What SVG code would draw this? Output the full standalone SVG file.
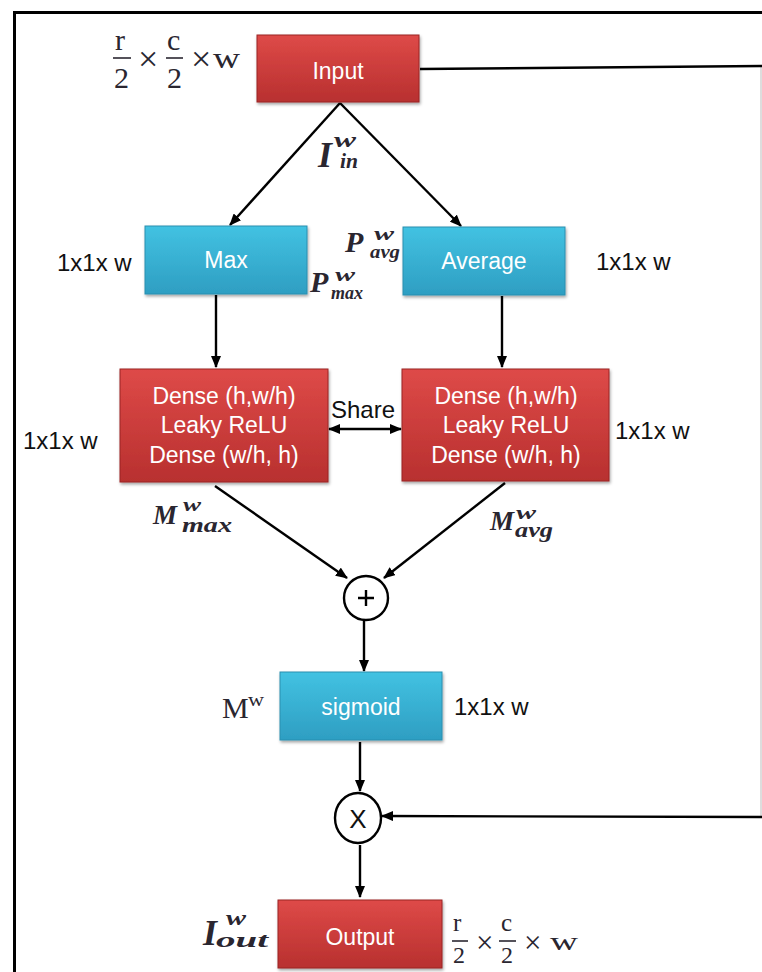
<svg xmlns="http://www.w3.org/2000/svg" width="762" height="972" viewBox="0 0 762 972">
  <defs>
    <linearGradient id="redFill" x1="0" y1="0" x2="0" y2="1">
      <stop offset="0" stop-color="#de4a48"/>
      <stop offset="1" stop-color="#b8302f"/>
    </linearGradient>
    <linearGradient id="blueFill" x1="0" y1="0" x2="0" y2="1">
      <stop offset="0" stop-color="#42c2e2"/>
      <stop offset="1" stop-color="#2e9ec2"/>
    </linearGradient>
    <filter id="shadow" x="-10%" y="-10%" width="125%" height="130%">
      <feDropShadow dx="1" dy="2" stdDeviation="1.5" flood-color="#000" flood-opacity="0.35"/>
    </filter>
    <marker id="arrow" markerUnits="userSpaceOnUse" markerWidth="12" markerHeight="10" refX="11" refY="5" orient="auto-start-reverse">
      <path d="M0,0 L12,5 L0,10 Z" fill="#000"/>
    </marker>
  </defs>
  <style>
    .red { fill: url(#redFill); stroke: #9a2424; stroke-width: 1; filter: url(#shadow); }
    .blue { fill: url(#blueFill); stroke: #2a8fb0; stroke-width: 1; filter: url(#shadow); }
    .lbl { font-family: "Liberation Sans", Arial, sans-serif; font-size: 23px; fill: #fff; text-anchor: middle; }
    .dim { font-family: "Liberation Sans", Arial, sans-serif; font-size: 24px; fill: #111; }
    .math { font-family: "Liberation Serif", "Times New Roman", serif; fill: #2a2630; }
    .mi { font-family: "Liberation Serif", "Times New Roman", serif; font-style: italic; font-weight: bold; fill: #2a2630; }
    .bar { stroke: #2a2630; stroke-width: 1.6; }
    .wire { stroke: #000; stroke-width: 2.4; fill: none; }
    .arr { stroke: #000; stroke-width: 2.4; fill: none; marker-end: url(#arrow); }
  </style>

  <rect width="762" height="972" fill="#fff"/>
  <!-- outer frame -->
  <path d="M14.5,980 V12.5 H770" fill="none" stroke="#000" stroke-width="3"/>
  <line x1="761" y1="66" x2="761" y2="818" stroke="#bbb" stroke-width="1"/>

  <!-- connectors -->
  <g id="connectors">
    <line class="arr" x1="340" y1="103" x2="230" y2="225"/>
    <line class="arr" x1="340" y1="103" x2="461" y2="226"/>
    <line class="arr" x1="216" y1="295" x2="216" y2="367"/>
    <line class="arr" x1="502" y1="296" x2="502" y2="367"/>
    <line class="arr" x1="364" y1="429" x2="329" y2="429"/>
    <line class="arr" x1="364" y1="429" x2="401" y2="429"/>
    <line class="arr" x1="215" y1="486" x2="347" y2="578"/>
    <line class="arr" x1="505" y1="483" x2="384" y2="578"/>
    <line class="arr" x1="364" y1="620" x2="364" y2="671"/>
    <line class="arr" x1="360" y1="742" x2="360" y2="791"/>
    <line class="arr" x1="360" y1="845" x2="360" y2="897"/>
    <path class="wire" d="M420,69 L762,66"/>
    <line class="arr" x1="762" y1="817" x2="382" y2="816"/>
  </g>

  <!-- Input -->
  <g id="input">
    <rect class="red" x="257" y="35" width="162" height="67"/>
    <text class="lbl" x="338" y="79" font-size="26">Input</text>
  </g>
  <g id="input-size">
    <text class="math" x="115" y="50" font-size="30">r</text>
    <line class="bar" x1="113" y1="58" x2="131" y2="58"/>
    <text class="math" x="114" y="88" font-size="30">2</text>
    <text class="math" x="138" y="71" font-size="36">×</text>
    <text class="math" x="167" y="50" font-size="30">c</text>
    <line class="bar" x1="166" y1="58" x2="183" y2="58"/>
    <text class="math" x="167" y="88" font-size="30">2</text>
    <text class="math" x="191" y="71" font-size="36">×</text>
    <text class="math" x="213" y="68" font-size="30" textLength="27" lengthAdjust="spacingAndGlyphs">w</text>
  </g>
  <g id="label-iin">
    <text class="mi" x="318" y="167" font-size="36">I</text>
    <text class="mi" x="334" y="147" font-size="21" textLength="22" lengthAdjust="spacingAndGlyphs">w</text>
    <text class="mi" x="340" y="168" font-size="21" textLength="18" lengthAdjust="spacingAndGlyphs">in</text>
  </g>

  <!-- Max -->
  <g id="max">
    <rect class="blue" x="145" y="226" width="162" height="68"/>
    <text class="lbl" x="226" y="268">Max</text>
  </g>
  <text class="dim" x="57" y="271">1x1x w</text>
  <g id="label-pmax">
    <text class="mi" x="310" y="292" font-size="30">P</text>
    <text class="mi" x="335" y="281" font-size="19" textLength="20" lengthAdjust="spacingAndGlyphs">w</text>
    <text class="mi" x="331" y="299" font-size="19" textLength="32" lengthAdjust="spacingAndGlyphs">max</text>
  </g>

  <!-- Average -->
  <g id="average">
    <rect class="blue" x="403" y="227" width="162" height="68"/>
    <text class="lbl" x="484" y="269">Average</text>
  </g>
  <text class="dim" x="596" y="270">1x1x w</text>
  <g id="label-pavg">
    <text class="mi" x="345" y="252" font-size="30">P</text>
    <text class="mi" x="374" y="240" font-size="19" textLength="20" lengthAdjust="spacingAndGlyphs">w</text>
    <text class="mi" x="370" y="258" font-size="19" textLength="30" lengthAdjust="spacingAndGlyphs">avg</text>
  </g>

  <!-- shared dense blocks -->
  <g id="dense-max">
    <rect class="red" x="120" y="369" width="208" height="113"/>
    <text class="lbl" x="224" y="404" font-size="24">Dense (h,w/h)</text>
    <text class="lbl" x="224" y="433" font-size="24">Leaky ReLU</text>
    <text class="lbl" x="224" y="463" font-size="24">Dense (w/h, h)</text>
  </g>
  <text class="dim" x="23" y="449">1x1x w</text>
  <g id="dense-avg">
    <rect class="red" x="402" y="369" width="207" height="112"/>
    <text class="lbl" x="506" y="404" font-size="24">Dense (h,w/h)</text>
    <text class="lbl" x="506" y="433" font-size="24">Leaky ReLU</text>
    <text class="lbl" x="506" y="463" font-size="24">Dense (w/h, h)</text>
  </g>
  <text class="dim" x="615" y="439">1x1x w</text>
  <text class="dim" x="331" y="418" font-size="23">Share</text>

  <g id="label-mmax">
    <text class="mi" x="153" y="524" font-size="27">M</text>
    <text class="mi" x="183" y="511" font-size="19" textLength="18" lengthAdjust="spacingAndGlyphs">w</text>
    <text class="mi" x="182" y="532" font-size="20" textLength="50" lengthAdjust="spacingAndGlyphs">max</text>
  </g>
  <g id="label-mavg">
    <text class="mi" x="490" y="530" font-size="27">M</text>
    <text class="mi" x="516" y="519" font-size="19" textLength="20" lengthAdjust="spacingAndGlyphs">w</text>
    <text class="mi" x="515" y="537" font-size="20" textLength="38" lengthAdjust="spacingAndGlyphs">avg</text>
  </g>

  <!-- sum -->
  <g id="sum">
    <circle cx="366" cy="598" r="22" fill="#fff" stroke="#000" stroke-width="2.4"/>
    <path d="M358,598 H374 M366,590 V606" stroke="#000" stroke-width="2.4"/>
  </g>

  <!-- sigmoid -->
  <g id="sigmoid">
    <rect class="blue" x="280" y="672" width="162" height="68"/>
    <text class="lbl" x="361" y="715">sigmoid</text>
  </g>
  <g id="label-mw">
    <text class="math" x="222" y="718" font-size="30">M</text>
    <text class="math" x="248" y="706" font-size="18" textLength="16" lengthAdjust="spacingAndGlyphs">w</text>
  </g>
  <text class="dim" x="454" y="715">1x1x w</text>

  <!-- product -->
  <g id="product">
    <ellipse cx="358" cy="818" rx="23" ry="25" fill="#fff" stroke="#000" stroke-width="2.4"/>
    <text x="358" y="828" font-family="Liberation Sans, Arial, sans-serif" font-size="26" fill="#111" text-anchor="middle">X</text>
  </g>

  <!-- Output -->
  <g id="output">
    <rect class="red" x="278" y="900" width="164" height="68"/>
    <text class="lbl" x="360" y="945">Output</text>
  </g>
  <g id="label-iout">
    <text class="mi" x="203" y="945" font-size="36">I</text>
    <text class="mi" x="226" y="925" font-size="20" textLength="20" lengthAdjust="spacingAndGlyphs">w</text>
    <text class="mi" x="216" y="947" font-size="21" textLength="52" lengthAdjust="spacingAndGlyphs">out</text>
  </g>
  <g id="output-size">
    <text class="math" x="453" y="931" font-size="25">r</text>
    <line class="bar" x1="452" y1="941" x2="468" y2="941"/>
    <text class="math" x="453" y="963" font-size="24">2</text>
    <text class="math" x="476" y="953" font-size="31">×</text>
    <text class="math" x="501" y="931" font-size="25">c</text>
    <line class="bar" x1="499" y1="941" x2="516" y2="941"/>
    <text class="math" x="501" y="963" font-size="24">2</text>
    <text class="math" x="524" y="953" font-size="31">×</text>
    <text class="math" x="550" y="950" font-size="26" textLength="28" lengthAdjust="spacingAndGlyphs">w</text>
  </g>
</svg>
